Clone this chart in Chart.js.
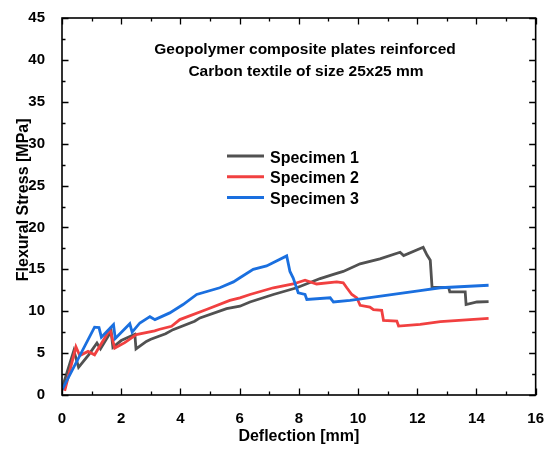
<!DOCTYPE html>
<html>
<head>
<meta charset="utf-8">
<script src="https://cdn.jsdelivr.net/npm/chart.js@4.4.1/dist/chart.umd.min.js"></script>
<style>
  html, body { margin: 0; padding: 0; background: #fff; }
  #wrap { width: 551px; height: 450px; }
</style>
</head>
<body>
<div id="wrap"><canvas id="flexChart" width="551" height="450"></canvas></div>
<script>
// Flexural stress vs deflection
const seriesNames = ['Specimen 1', 'Specimen 2', 'Specimen 3'];
const seriesColors = ['#515151', '#F14040', '#1A6FDF'];

const spec1X = [0, 0.4, 0.56, 0.9, 1.18, 1.3, 1.66, 1.72, 2.0, 2.46, 2.5, 2.85, 3.0, 3.5, 3.75, 4.48, 4.66, 5.56, 6.01, 6.35, 7.14, 7.93, 8.72, 9.17, 9.5, 10.07, 10.74, 11.42, 11.54, 12.2, 12.33, 12.44, 12.5, 13.06, 13.1, 13.62, 13.65, 14.02, 14.41];
const spec1Y = [0.8, 5.3, 3.3, 4.8, 6.2, 5.5, 7.6, 5.7, 6.5, 7.25, 5.5, 6.4, 6.65, 7.3, 7.8, 8.8, 9.2, 10.3, 10.6, 11.1, 12.0, 12.8, 13.9, 14.4, 14.75, 15.66, 16.25, 17.04, 16.65, 17.63, 16.7, 16.1, 12.85, 12.85, 12.3, 12.3, 10.8, 11.1, 11.15];

const spec2X = [0.09, 0.47, 0.6, 0.88, 1.1, 1.62, 1.78, 2.12, 2.51, 3.13, 3.3, 3.7, 3.98, 4.88, 5.67, 6.01, 6.35, 7.14, 7.81, 8.21, 8.6, 9.28, 9.5, 9.62, 9.79, 9.96, 10.07, 10.4, 10.52, 10.8, 10.86, 11.31, 11.37, 12.1, 12.78, 14.41];
const spec2Y = [0.5, 5.75, 4.7, 5.2, 4.8, 7.85, 5.6, 6.25, 7.2, 7.65, 7.85, 8.2, 9.0, 10.2, 11.3, 11.6, 12.0, 12.8, 13.25, 13.7, 13.25, 13.5, 13.4, 12.8, 12.0, 11.6, 10.7, 10.5, 10.2, 10.1, 8.9, 8.83, 8.23, 8.43, 8.75, 9.15];

const spec3X = [0, 1.1, 1.25, 1.33, 1.74, 1.8, 2.29, 2.37, 2.63, 2.97, 3.14, 3.64, 4.09, 4.55, 5.33, 5.79, 6.01, 6.46, 6.91, 7.59, 7.7, 7.81, 7.98, 8.21, 8.27, 9.06, 9.17, 9.73, 12.1, 12.78, 14.41];
const spec3Y = [0.6, 8.1, 8.05, 6.9, 8.4, 6.75, 8.5, 7.5, 8.6, 9.35, 9.0, 9.8, 10.8, 12.0, 12.8, 13.5, 14.0, 15.0, 15.4, 16.6, 14.75, 13.96, 12.2, 12.0, 11.4, 11.6, 11.1, 11.3, 12.46, 12.8, 13.1];

const noteLines = ['Geopolymer composite plates reinforced', 'Carbon textile of size 25x25 mm'];
const xTitle = 'Deflection [mm]';
const yTitle = '   Flexural Stress [MPa]';

const FONT = '"Liberation Sans", Arial, Helvetica, sans-serif';

function toPoints(xs, ys) {
    return xs.map((v, i) => ({ x: v, y: ys[i] }));
}

const allX = [spec1X, spec2X, spec3X];
const allY = [spec1Y, spec2Y, spec3Y];

// frame, inward ticks (major + minor), note text and legend
const decorPlugin = {
    id: 'decor',
    afterDatasetsDraw(chart) {
        const { ctx, chartArea: a, scales: { x, y } } = chart;
        ctx.save();
        ctx.strokeStyle = '#000';
        ctx.lineWidth = 1.3;
        ctx.beginPath();
        x.ticks.forEach(t => {
            const px = Math.round(x.getPixelForValue(t.value)) + 0.5;
            const len = t.value % 2 === 0 ? 6.5 : 3.5;
            ctx.moveTo(px, a.bottom); ctx.lineTo(px, a.bottom - len);
            ctx.moveTo(px, a.top); ctx.lineTo(px, a.top + len);
        });
        y.ticks.forEach(t => {
            const py = Math.round(y.getPixelForValue(t.value)) + 0.5;
            const len = t.value % 5 === 0 ? 6.5 : 3.5;
            ctx.moveTo(a.left, py); ctx.lineTo(a.left + len, py);
            ctx.moveTo(a.right, py); ctx.lineTo(a.right - len, py);
        });
        ctx.stroke();
        ctx.lineWidth = 1.6;
        ctx.strokeRect(a.left, a.top, a.right - a.left, a.bottom - a.top);

        // note text inside the plot
        ctx.fillStyle = '#000';
        ctx.font = 'bold 15.5px ' + FONT;
        ctx.textAlign = 'center';
        ctx.textBaseline = 'alphabetic';
        ctx.fillText(noteLines[0], 305, 54);
        ctx.fillText(noteLines[1], 306, 76);

        // legend
        ctx.font = 'bold 16px ' + FONT;
        ctx.textAlign = 'left';
        chart.data.datasets.forEach((ds, i) => {
            const ly = 156 + i * 20.8;
            ctx.strokeStyle = ds.borderColor;
            ctx.lineWidth = 3;
            ctx.beginPath();
            ctx.moveTo(227, ly); ctx.lineTo(264, ly);
            ctx.stroke();
            ctx.fillText(ds.label, 270, ly + 6.5);
        });
        ctx.restore();
    }
};

const datasets = seriesNames.map((name, i) => ({
    label: name,
    data: toPoints(allX[i], allY[i]),
    borderColor: seriesColors[i],
    backgroundColor: seriesColors[i],
    borderWidth: 2.8,
    pointRadius: 0,
    showLine: true,
    fill: false,
    tension: 0,
    order: 2 - i
}));

new Chart(document.getElementById('flexChart').getContext('2d'), {
    type: 'scatter',
    data: { datasets: datasets },
    options: {
        responsive: false,
        animation: false,
        devicePixelRatio: 1,
        layout: { padding: { top: 14, right: 14, left: 0, bottom: 0 } },
        plugins: { legend: { display: false }, tooltip: { enabled: false } },
        scales: {
            x: {
                type: 'linear', min: 0, max: 16,
                grid: { display: false },
                border: { display: false },
                ticks: {
                    stepSize: 1, autoSkip: false, maxRotation: 0, padding: 7,
                    color: '#000', font: { family: FONT, size: 15, weight: 'bold' },
                    callback: v => (v % 2 === 0 ? v : '')
                },
                title: {
                    display: true, text: xTitle, color: '#000',
                    font: { family: FONT, size: 16, weight: 'bold' },
                    padding: { top: 0, bottom: 4 }
                },
                afterFit: s => { s.height = 55; }
            },
            y: {
                type: 'linear', min: 0, max: 45,
                grid: { display: false },
                border: { display: false },
                ticks: {
                    stepSize: 2.5, autoSkip: false, padding: 9,
                    color: '#000', font: { family: FONT, size: 15, weight: 'bold' },
                    callback: v => (v % 5 === 0 ? v : '')
                },
                title: {
                    display: true, text: yTitle, color: '#000',
                    font: { family: FONT, size: 16, weight: 'bold' },
                    padding: { top: 14, bottom: 0 }
                },
                afterFit: s => { s.width = 62; }
            }
        }
    },
    plugins: [decorPlugin]
});
</script>
</body>
</html>
